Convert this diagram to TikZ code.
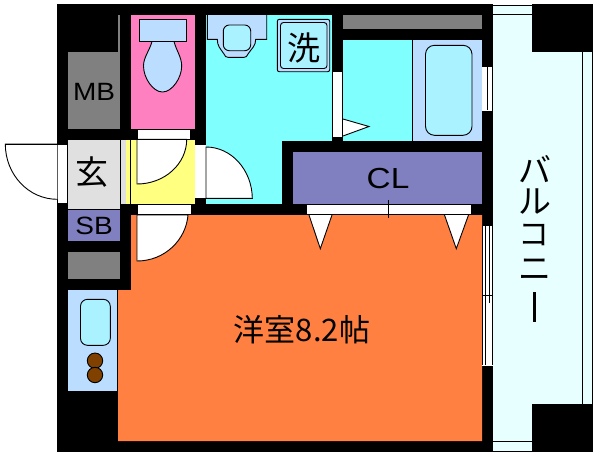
\documentclass[tikz,border=0pt]{standalone}
\usepackage{fontspec}
\setmainfont{Liberation Sans}
\newfontfamily\cjk{Noto Sans CJK JP}
\definecolor{cCyan}{HTML}{80FFFF}
\definecolor{cPink}{HTML}{FF80C0}
\definecolor{cOrange}{HTML}{FF8040}
\definecolor{cYellow}{HTML}{FFFF80}
\definecolor{cPurple}{HTML}{8080C0}
\definecolor{cGray}{HTML}{808080}
\definecolor{cLight}{HTML}{E0E0E0}
\definecolor{cFix}{HTML}{BBDDFF}
\definecolor{cIn}{HTML}{AAF2FF}
\definecolor{cBal}{HTML}{E8FFFF}
\definecolor{cBrown}{HTML}{804000}
\tikzset{
 x=1pt,y=-1pt,
 ln/.style={draw=black,line width=0.9pt},
 fx/.style={ln,fill=cFix},
 inr/.style={ln,fill=cIn,rounded corners=6pt},
 wh/.style={ln,fill=white},
 lab/.style={inner sep=0pt,text=black},
 jp/.style={lab,font=\cjk\fontsize{#1}{#1}\selectfont},
 la/.style={lab,font=\fontsize{#1}{#1}\selectfont},
}
\begin{document}
\begin{tikzpicture}
\useasboundingbox (0,0) rectangle (600,456);
\fill[white] (0,0) rectangle (600,456);
% balcony
\fill[cBal] (493,5) rectangle (592.5,451.5);
\draw[ln] (493,5) -- (532,5) (493,14.5) -- (532,14.5);
\draw[ln] (493,441.5) -- (532,441.5) (493,451) -- (532,451);
\draw[ln] (582.5,50) -- (582.5,405) (592.5,50) -- (592.5,405);
% black body
\fill[black] (57,4) rectangle (493,452);
\fill[black] (532,4) rectangle (593,52);
\fill[black] (532,404) rectangle (593,452);
% rooms
\fill[cGray] (68,52) rectangle (120,129);
\fill[cGray] (118.3,15) rectangle (120,52);
\fill[cPink] (131,15) rectangle (195,129);
\fill[cCyan] (206,15) rectangle (332,204);
\fill[black] (282,141) rectangle (340,204);
\fill[cCyan] (343,40) rectangle (412.5,141);
\fill[cFix] (412.5,40) rectangle (482,141);
\draw[ln] (412.7,40) -- (412.7,141);
\fill[cGray] (343,15) rectangle (482,29);
\fill[cPurple] (293,152) rectangle (482,204);
\fill[cLight] (68,140) rectangle (126,204);
\fill[cLight] (68,204) rectangle (120,209);
\fill[cYellow] (126,140) rectangle (195,204);
\draw[ln] (120.4,140) -- (120.4,209) (130.3,140) -- (130.3,204);
\fill[cPurple] (68,209.7) rectangle (120,241);
\fill[cGray] (68,252) rectangle (120,279);
\fill[cOrange] (131,215) -- (482,215) -- (482,441) -- (118,441) -- (118,290) -- (131,290) -- cycle;
\fill[cFix] (68,290) rectangle (117.3,391);
% toilet
\draw[fx] (143.5,66) .. controls (143.5,57) and (150,50) .. (152,41.3) -- (174,41.3) .. controls (176,50) and (181.7,57) .. (181.7,66) .. controls (181.7,78) and (172,92) .. (162.5,92) .. controls (153,92) and (143.5,78) .. (143.5,66) -- cycle;
\draw[fx] (139.3,19.3) rectangle (186.7,41.3);
% basin
\draw[fx] (207.3,15) -- (207.3,39.3) -- (217.3,39.3) .. controls (217.3,46) and (220,48) .. (224,54) .. controls (225,56.5) and (226,57.3) .. (228,57.3) -- (244,57.3) .. controls (246,57.3) and (247,56.5) .. (248,54) .. controls (252,48) and (255.7,46) .. (255.7,39.3) -- (266.7,39.3) -- (266.7,15);
\draw[inr] (223.3,25) rectangle (250.7,50.7);
% washer
\draw[ln,fill=cFix,rounded corners=2pt] (277.3,19.3) rectangle (329.7,71.7);
\draw[ln,fill=cIn,rounded corners=3pt] (280.5,22.5) rectangle (327,68.5);
% tub, sink
\draw[ln,fill=cIn,rounded corners=9pt] (425.5,45.3) rectangle (472,135.3);
\draw[ln,fill=cIn,rounded corners=7pt] (80.5,299.3) rectangle (110.3,345.3);
\draw[ln,fill=cBrown] (95,360.7) circle[radius=7.7];
\draw[ln,fill=cBrown] (95,375) circle[radius=7.7];
% doors
\fill[white] (57.5,144) rectangle (67.7,203);
\draw[ln] (67.7,144) -- (67.7,203);
\draw[wh] (57.3,144) -- (5.3,144) .. controls (5.3,174.6) and (28.6,199.3) .. (57.3,199.3);
\draw[ln] (5.3,144) -- (67.7,144);
\fill[white] (137,129.5) rectangle (190,139.3);
\draw[ln] (137,129.5) -- (137,139.3);
\draw[wh] (186.7,139.3) .. controls (186.7,164) and (164.5,184) .. (137,184) -- (137,139.3) -- cycle;
\draw[ln] (137,139.3) -- (190,139.3);
\fill[white] (195,145) rectangle (205.5,198.5);
\draw[wh] (206,147) .. controls (231.4,147) and (252,170) .. (252.3,198.3) -- (206,198.3) -- cycle;
\draw[ln] (195,198.3) -- (252.3,198.3);
\fill[white] (137,204.7) rectangle (191,214.3);
\draw[ln] (137,204.7) -- (137,214.3);
\draw[wh] (188,215) .. controls (186,240) and (164.6,261) .. (137,261) -- (137,215) -- cycle;
\draw[ln] (137,214.6) -- (191,214.6);
% washroom door
\fill[white] (332.5,72) rectangle (342,137);
\draw[ln] (332.5,72) -- (332.5,137) -- (342,137);
\draw[wh] (343,119) -- (369,126.5) -- (343,136);
% closet doors
\draw[wh] (306,204.3) rectangle (471,214.3);
\draw[ln] (388.3,200) -- (388.3,217.5);
\draw[wh] (309,215) -- (320.3,248.7) -- (332,215);
\draw[wh] (444.5,215) -- (456.3,248.7) -- (468.5,215);
% windows
\fill[white] (482.3,67.3) rectangle (491.7,110.5);
\draw[ln] (487.6,67.3) -- (487.6,110);
\fill[white] (482.3,226) rectangle (493,366);
\draw[ln] (482.7,226) -- (482.7,365) (485,226) -- (485,365) (489.5,226) -- (489.5,303) (492.7,226) -- (492.7,365);
\draw[ln] (482.7,295.3) -- (492.7,295.3) (485,288) -- (485,303);
% labels
\node[la=25] (mb) at (94,91.5) {\scalebox{1.12}[1]{MB}};
\node[la=25] (sb) at (94,226) {\scalebox{1.12}[1]{SB}};
\node[la=29] (cl) at (388,178.5) {\scalebox{1.15}[1]{CL}};
\node[jp=33] (gen) at (92,172.5) {玄};
\node[jp=33] (sen) at (303.5,47.5) {洗};
\node[jp=31] (room) at (302,330) {洋室8.2帖};
\node[jp=33] (b1) at (535,169) {バ};
\node[jp=33] (b2) at (535,202) {ル};
\node[jp=31] (b3) at (534,235) {コ};
\node[jp=33] (b4) at (535,269.5) {ニ};
\node[lab,fill=black,minimum width=2.4pt,minimum height=30pt] (b5) at (534.5,307) {};
\end{tikzpicture}
\end{document}
